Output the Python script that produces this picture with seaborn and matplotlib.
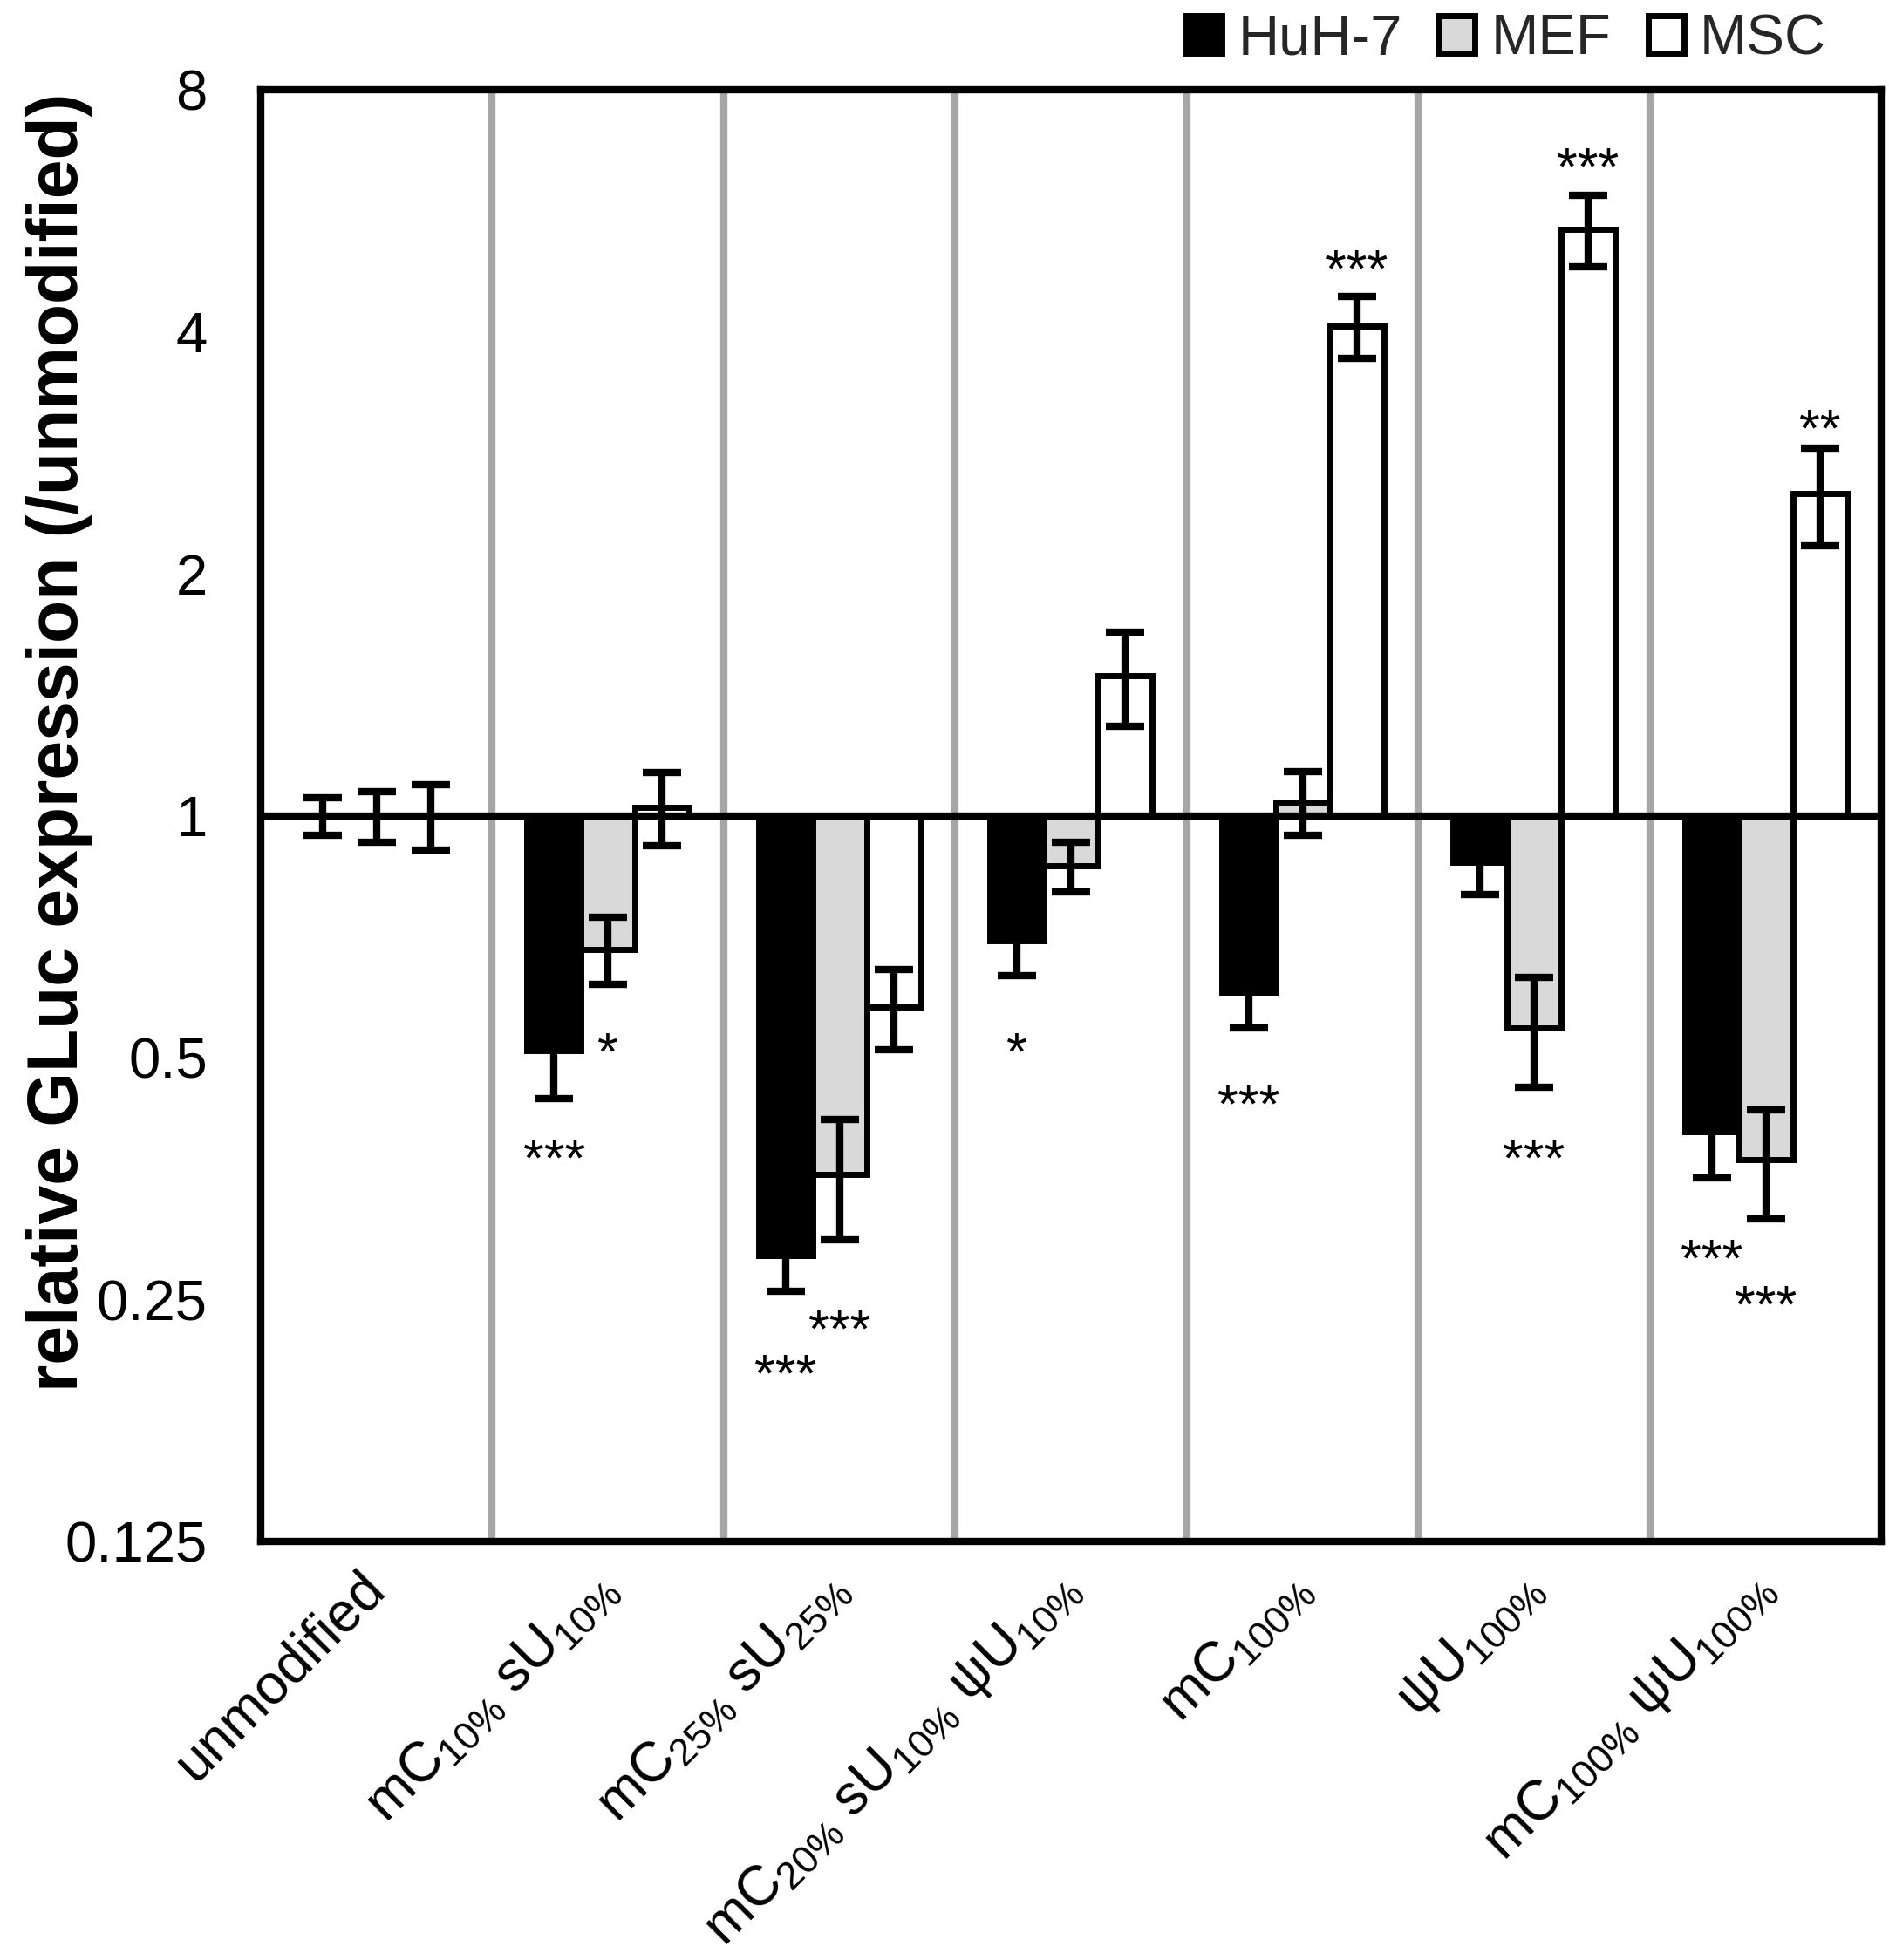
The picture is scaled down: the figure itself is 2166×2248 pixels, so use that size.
import numpy as np
import pandas as pd
import matplotlib
matplotlib.use("Agg")
import matplotlib.pyplot as plt
import seaborn as sns

# -----------------------------
# Data (fold change vs unmodified)
# -----------------------------
groups = ["unmodified", "mC10 sU10", "mC25 sU25", "mC20 sU10 psiU10",
          "mC100", "psiU100", "mC100 psiU100"]
group_labels = [
    "unmodified",
    r"mC$_{10\%}$ sU$_{10\%}$",
    r"mC$_{25\%}$ sU$_{25\%}$",
    r"mC$_{20\%}$ sU$_{10\%}$ ψU$_{10\%}$",
    r"mC$_{100\%}$",
    r"ψU$_{100\%}$",
    r"mC$_{100\%}$ ψU$_{100\%}$",
]
cells = ["HuH-7", "MEF", "MSC"]

huh7 = [1.00, 0.510, 0.284, 0.699, 0.603, 0.876, 0.405]
mef = [1.00, 0.682, 0.358, 0.866, 1.040, 0.544, 0.373]
msc = [1.00, 1.025, 0.578, 1.494, 4.07, 5.37, 2.52]

huh7_sd = [0.053, 0.065, 0.028, 0.067, 0.059, 0.078, 0.051]
mef_sd = [0.073, 0.065, 0.061, 0.062, 0.094, 0.085, 0.058]
msc_sd = [0.094, 0.107, 0.066, 0.200, 0.360, 0.550, 0.350]

# significance marks: (group index, cell, label, level on the fold scale)
stars = [
    (1, "HuH-7", "***", 0.390),
    (1, "MEF", "*", 0.528),
    (2, "HuH-7", "***", 0.210),
    (2, "MEF", "***", 0.239),
    (3, "HuH-7", "*", 0.528),
    (4, "HuH-7", "***", 0.455),
    (4, "MSC", "***", 4.98),
    (5, "MEF", "***", 0.390),
    (5, "MSC", "***", 6.68),
    (6, "HuH-7", "***", 0.292),
    (6, "MEF", "***", 0.256),
    (6, "MSC", "**", 3.15),
]

ytick_vals = [0.125, 0.25, 0.5, 1, 2, 4, 8]
ytick_labels = ["0.125", "0.25", "0.5", "1", "2", "4", "8"]

# long table for seaborn, plotted on a log2 axis (baseline = 1)
rows = []
for cell, vals, sds in [("HuH-7", huh7, huh7_sd), ("MEF", mef, mef_sd), ("MSC", msc, msc_sd)]:
    for g, v, s in zip(groups, vals, sds):
        rows.append({"group": g, "cell": cell, "value": v, "sd": s})
df = pd.DataFrame(rows)
df["log2"] = np.log2(df["value"])

# -----------------------------
# Style
# -----------------------------
sns.set_theme(style="white")
plt.rcParams["font.family"] = ["Liberation Sans", "DejaVu Sans"]
plt.rcParams["mathtext.fontset"] = "custom"
plt.rcParams["mathtext.rm"] = "Liberation Sans"
plt.rcParams["mathtext.default"] = "regular"

LW = 6
fs = 47

fig = plt.figure(figsize=(21.66, 22.48), dpi=100)
ax = fig.add_axes([0.138, 0.2135, 0.858, 0.7405])

# group separators and the line at 1
for i in range(len(groups) - 1):
    ax.axvline(i + 0.5, color="#a6a6a6", lw=LW, zorder=0)

sns.barplot(data=df, x="group", y="log2", hue="cell", order=groups, hue_order=cells,
            palette=["black", "#d9d9d9", "white"], width=0.7, edgecolor="black",
            linewidth=5, errorbar=None, ax=ax, zorder=2)

ax.axhline(0, color="black", lw=LW, zorder=4)

# error bars, taken from the bar positions
centers = {}
for cell, cont in zip(cells, ax.containers):
    for gi, bar in enumerate(cont):
        centers[(gi, cell)] = bar.get_x() + bar.get_width() / 2

for cell in cells:
    sub = df[df["cell"] == cell].set_index("group").loc[groups]
    xs = [centers[(gi, cell)] for gi in range(len(groups))]
    y = sub["log2"].values
    lo = y - np.log2(sub["value"].values - sub["sd"].values)
    hi = np.log2(sub["value"].values + sub["sd"].values) - y
    ax.errorbar(xs, y, yerr=[lo, hi], fmt="none", ecolor="black",
                elinewidth=LW, capsize=16, capthick=LW, zorder=5)

for gi, cell, label, level in stars:
    ax.annotate(label, xy=(centers[(gi, cell)], np.log2(level)),
                xytext=(0, -0.58 * 44), textcoords="offset points",
                ha="center", va="baseline", fontsize=44, color="black")

# axes
ax.set_xlim(-0.5, len(groups) - 0.5)
ax.set_ylim(-3, 3)
ax.set_yticks(np.log2(ytick_vals))
ax.set_yticklabels(ytick_labels)
ax.set_xticks(range(len(groups)))
ax.set_xticklabels(group_labels, rotation=45, ha="right", va="center",
                   rotation_mode="anchor")
ax.tick_params(axis="y", direction="in", length=13, width=LW, labelsize=fs,
               pad=44, colors="black")
ax.tick_params(axis="x", length=0, labelsize=46, pad=32, colors="black")
for s in ax.spines.values():
    s.set_linewidth(LW)
    s.set_color("black")

ax.set_xlabel("")
ax.set_ylabel("relative GLuc expression (/unmodified)", fontsize=58,
              fontweight="bold", color="black")
ax.yaxis.set_label_coords(-0.104, 0.551)

sns.move_legend(ax, "center right", bbox_to_anchor=(0.966, 1.035), ncol=3,
                frameon=False, title=None, fontsize=fs, handlelength=0.63,
                handleheight=0.63, handletextpad=0.28, columnspacing=0.65,
                borderpad=0, borderaxespad=0)

fig.savefig("out.png", dpi=100, facecolor="white")
